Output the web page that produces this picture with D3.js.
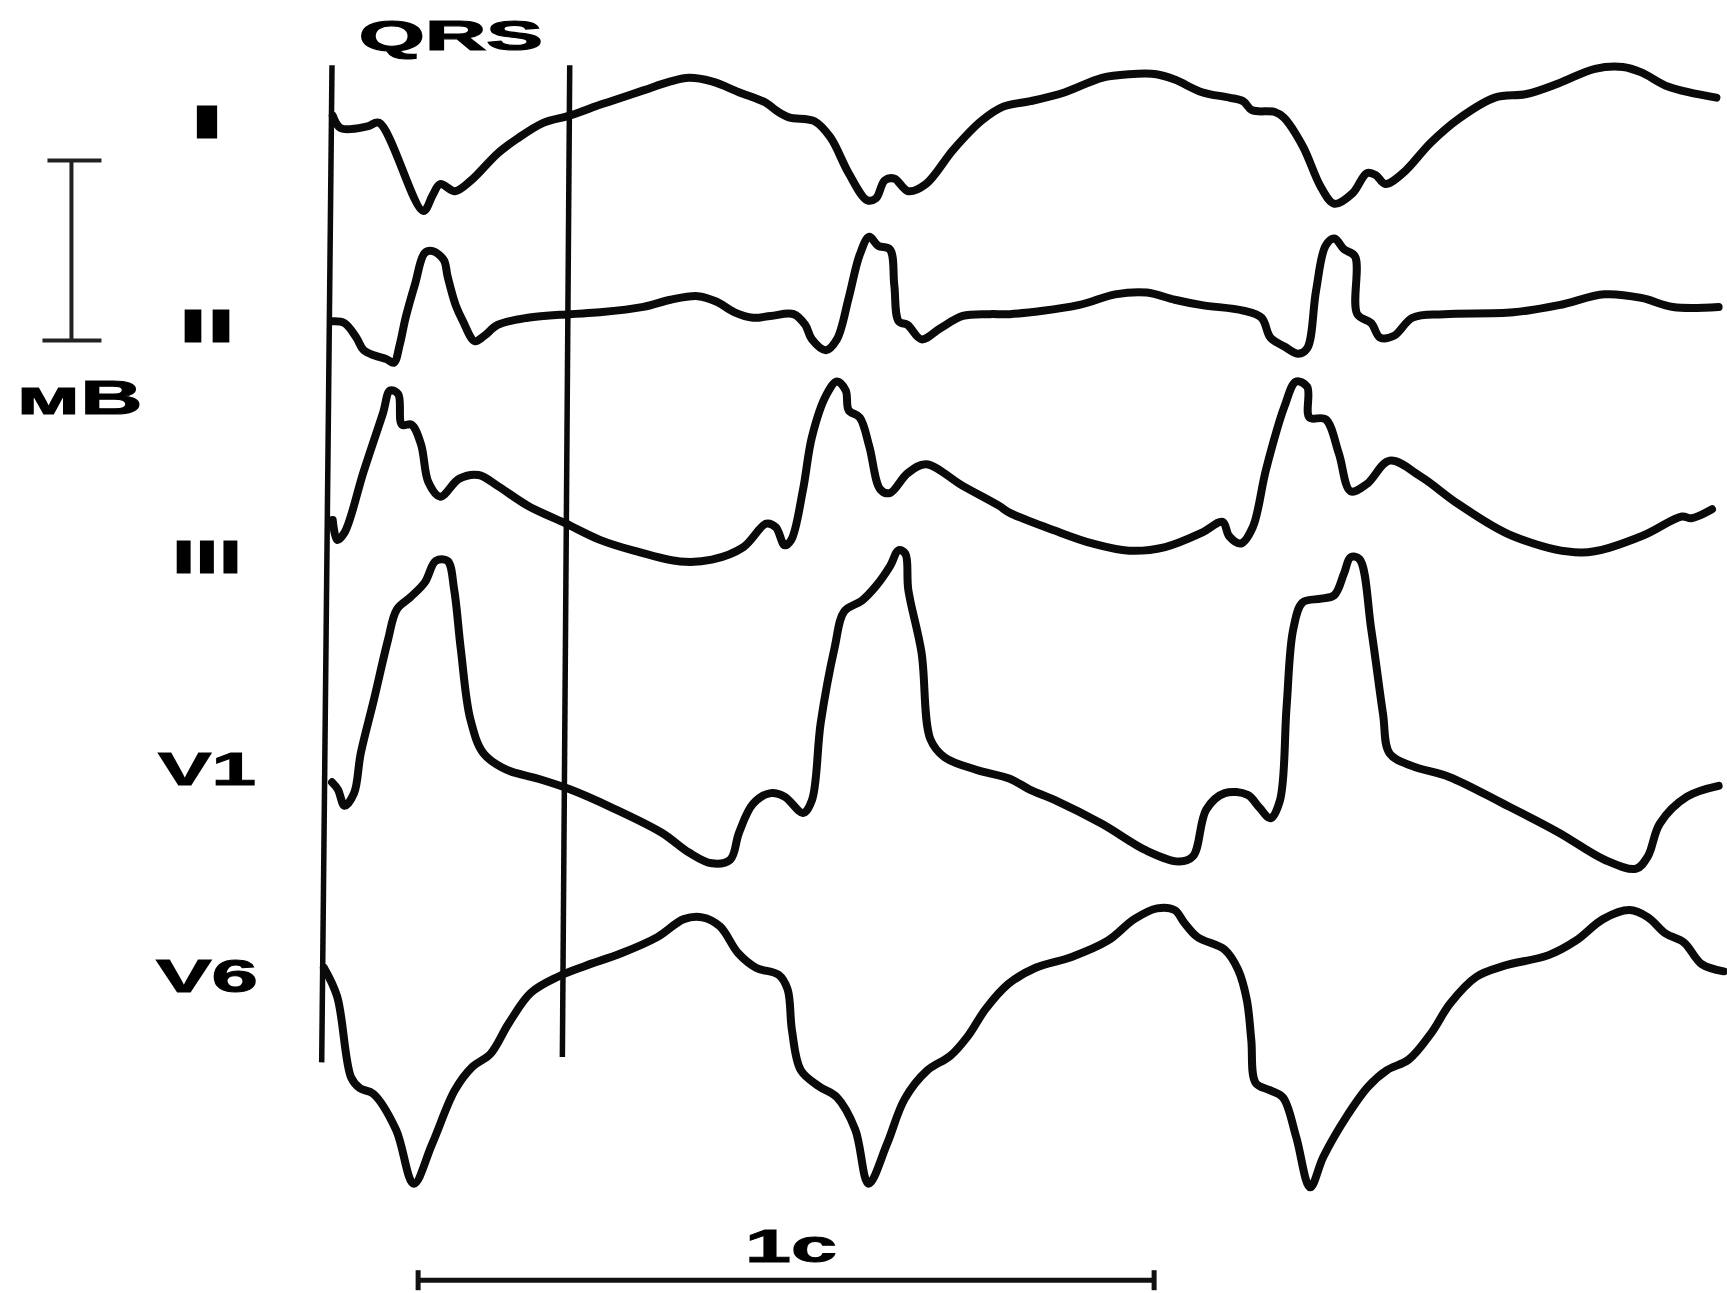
<!DOCTYPE html>
<html>
<head>
<meta charset="utf-8">
<script src="https://cdn.jsdelivr.net/npm/d3@7"></script>
<style>
  html, body { margin: 0; padding: 0; background: #fff; }
  svg { display: block; }
  text { font-family: "Liberation Sans", Arial, sans-serif; font-weight: bold; fill: #000; }
</style>
</head>
<body>
<svg id="chart" width="1727" height="1293"></svg>
<script>
// ---------- data (time in ms, amplitude in mV) ----------
const leadNames = ["I", "II", "III", "V1", "V6"];
// baseline of each lead on the common mV axis (lead I = 0)
const leadOffsets = [0, -1.133, -2.417, -3.594, -4.744];

const leadI = [[1,0.03],[12,-0.04],[48,-0.03],[64,-0.01],[124,-0.50],[137,-0.41],[147,-0.35],[167,-0.39],[189,-0.33],[225,-0.18],[251,-0.10],[287,-0.01],[323,0.03],[364,0.09],[379,0.11],[423,0.17],[460,0.22],[485,0.24],[516,0.22],[553,0.16],[590,0.10],[603,0.06],[621,0.02],[655,0.00],[677,-0.09],[702,-0.29],[727,-0.44],[739,-0.43],[751,-0.33],[764,-0.32],[783,-0.39],[807,-0.35],[844,-0.16],[882,0.00],[912,0.08],[949,0.11],[996,0.16],[1046,0.24],[1083,0.26],[1120,0.26],[1145,0.23],[1182,0.16],[1219,0.13],[1238,0.11],[1250,0.06],[1281,0.05],[1293,0.02],[1319,-0.14],[1344,-0.37],[1362,-0.46],[1387,-0.40],[1406,-0.29],[1418,-0.30],[1431,-0.35],[1455,-0.29],[1493,-0.12],[1530,0.01],[1580,0.13],[1623,0.15],[1667,0.21],[1716,0.29],[1754,0.30],[1779,0.27],[1816,0.19],[1881,0.13]];

const leadII = [[1,0.02],[17,0.01],[33,-0.07],[43,-0.14],[58,-0.17],[74,-0.19],[84,-0.21],[92,-0.11],[100,0.04],[113,0.23],[126,0.40],[137,0.41],[152,0.36],[157,0.27],[168,0.11],[178,0.02],[194,-0.09],[207,-0.06],[225,0.00],[266,0.04],[323,0.06],[364,0.07],[423,0.10],[460,0.14],[497,0.16],[522,0.13],[547,0.07],[572,0.04],[596,0.05],[627,0.06],[643,0.00],[652,-0.08],[671,-0.14],[686,-0.08],[702,0.15],[717,0.39],[730,0.49],[742,0.44],[758,0.42],[764,0.22],[770,0.02],[782,0.00],[801,-0.08],[826,-0.02],[857,0.05],[894,0.06],[921,0.06],[1014,0.11],[1064,0.17],[1107,0.18],[1145,0.14],[1182,0.11],[1238,0.08],[1263,0.04],[1275,-0.07],[1294,-0.12],[1313,-0.16],[1325,-0.13],[1337,0.19],[1350,0.44],[1362,0.48],[1375,0.42],[1390,0.38],[1393,0.06],[1412,0.01],[1424,-0.07],[1443,-0.06],[1468,0.04],[1511,0.06],[1605,0.07],[1667,0.11],[1729,0.17],[1779,0.15],[1822,0.10],[1884,0.10]];

const leadIII = [[1,0.20],[7,0.09],[17,0.13],[43,0.47],[69,0.79],[79,0.92],[90,0.90],[95,0.73],[108,0.73],[121,0.62],[131,0.41],[147,0.33],[173,0.43],[199,0.45],[225,0.39],[266,0.28],[318,0.18],[364,0.09],[410,0.03],[473,-0.03],[516,-0.02],[559,0.05],[590,0.18],[603,0.16],[615,0.06],[624,0.09],[640,0.37],[652,0.66],[671,0.89],[686,0.97],[698,0.92],[702,0.81],[717,0.77],[730,0.61],[745,0.37],[758,0.35],[782,0.46],[807,0.51],[857,0.39],[906,0.28],[921,0.24],[983,0.14],[1033,0.07],[1083,0.03],[1132,0.05],[1182,0.13],[1210,0.19],[1219,0.11],[1235,0.07],[1251,0.16],[1269,0.48],[1294,0.83],[1310,0.97],[1325,0.94],[1328,0.77],[1350,0.76],[1368,0.57],[1384,0.36],[1406,0.40],[1437,0.53],[1480,0.44],[1530,0.29],[1605,0.11],[1698,0.02],[1779,0.11],[1834,0.22],[1847,0.21],[1875,0.26]];

const leadV1 = [[0,-0.08],[8,-0.12],[17,-0.21],[30,-0.14],[39,0.08],[57,0.38],[76,0.71],[88,0.88],[107,0.95],[126,1.03],[141,1.15],[157,1.15],[166,0.99],[175,0.66],[188,0.27],[206,0.08],[237,-0.01],[280,-0.06],[324,-0.12],[380,-0.22],[448,-0.36],[485,-0.47],[516,-0.53],[541,-0.51],[553,-0.36],[572,-0.20],[596,-0.14],[615,-0.16],[640,-0.25],[652,-0.18],[664,0.25],[683,0.67],[696,0.87],[720,0.93],[739,1.01],[758,1.12],[770,1.21],[779,1.19],[783,0.99],[801,0.64],[813,0.16],[832,0.06],[875,-0.01],[921,-0.06],[948,-0.12],[983,-0.18],[1046,-0.31],[1107,-0.46],[1151,-0.52],[1170,-0.49],[1188,-0.23],[1213,-0.14],[1244,-0.15],[1260,-0.22],[1275,-0.28],[1288,-0.18],[1297,0.34],[1306,0.77],[1319,0.92],[1344,0.94],[1362,0.96],[1375,1.08],[1384,1.17],[1396,1.16],[1412,0.77],[1428,0.30],[1437,0.08],[1468,0.01],[1518,-0.05],[1592,-0.20],[1667,-0.36],[1729,-0.51],[1772,-0.56],[1788,-0.49],[1804,-0.31],[1841,-0.16],[1884,-0.10]];

const leadV6 = [[-11,0.04],[7,-0.12],[26,-0.57],[38,-0.63],[56,-0.66],[87,-0.86],[111,-1.16],[136,-0.94],[167,-0.64],[191,-0.51],[215,-0.44],[240,-0.27],[270,-0.10],[307,-0.01],[344,0.05],[393,0.12],[442,0.21],[478,0.31],[503,0.32],[527,0.27],[552,0.12],[576,0.04],[607,0.00],[619,-0.08],[625,-0.31],[637,-0.53],[662,-0.62],[686,-0.68],[711,-0.86],[729,-1.16],[754,-0.94],[778,-0.69],[809,-0.53],[840,-0.45],[864,-0.34],[888,-0.19],[919,-0.05],[956,0.04],[1005,0.10],[1054,0.19],[1090,0.31],[1121,0.37],[1145,0.36],[1158,0.29],[1176,0.21],[1213,0.14],[1231,0.03],[1243,-0.14],[1249,-0.36],[1255,-0.60],[1274,-0.64],[1292,-0.68],[1310,-0.90],[1329,-1.18],[1347,-1.01],[1378,-0.79],[1408,-0.62],[1433,-0.53],[1463,-0.47],[1494,-0.32],[1519,-0.16],[1555,-0.01],[1592,0.05],[1653,0.11],[1690,0.19],[1727,0.31],[1763,0.36],[1788,0.32],[1812,0.23],[1837,0.18],[1861,0.06],[1891,0.02]];

const leadSeries = [leadI, leadII, leadIII, leadV1, leadV6];

// QRS boundary markers (ms at top / bottom) and their vertical extent (mV on common axis)
const qrsTopMs = [0, 323];
const qrsBottomMs = [-14, 313];
const qrsTopMv = 0.31;
const qrsBottomMv = [-5.23, -5.20];

// calibration bars
const timeBarMs = [117, 1117];      // 1 s
const timeBarLevelMv = -6.44;
const voltBarMv = [-0.22, -1.22];   // 1 mV
const voltBarTimeMs = -354;

const labelQRS = "QRS";
const labelVolt = "мВ";
const labelTime = "1с";

// ---------- scales ----------
const svg = d3.select("#chart");
svg.append("rect").attr("width", 1727).attr("height", 1293).attr("fill", "#fff");

const x = d3.scaleLinear().domain([0, 1000]).range([332, 1068]);
const y = d3.scaleLinear().domain([0, -1]).range([121, 301]);

// ---------- traces ----------
const line = d3.line()
  .x(d => x(d[0]))
  .y(d => y(d[1]))
  .curve(d3.curveCatmullRom.alpha(0.5));

leadSeries.forEach((series, i) => {
  const pts = series.map(p => [p[0], p[1] + leadOffsets[i]]);
  svg.append("path")
    .attr("d", line(pts))
    .attr("fill", "none")
    .attr("stroke", "#0a0a0a")
    .attr("stroke-width", 8)
    .attr("stroke-linejoin", "round")
    .attr("stroke-linecap", "round");
});

// ---------- QRS boundary lines ----------
qrsTopMs.forEach((t, i) => {
  svg.append("line")
    .attr("x1", x(t)).attr("y1", y(qrsTopMv))
    .attr("x2", x(qrsBottomMs[i])).attr("y2", y(qrsBottomMv[i]))
    .attr("stroke", "#0a0a0a").attr("stroke-width", 5.5);
});

svg.append("text")
  .attr("x", x((qrsTopMs[0] + qrsTopMs[1]) / 2))
  .attr("y", y(qrsTopMv) - 15)
  .attr("text-anchor", "middle")
  .attr("font-size", 42)
  .attr("textLength", 184)
  .attr("lengthAdjust", "spacingAndGlyphs")
  .attr("stroke", "#000").attr("stroke-width", 1.2)
  .text(labelQRS);

// ---------- lead labels ----------
const labelWidths = [34, 56, 70, 98, 102];
leadNames.forEach((name, i) => {
  svg.append("text")
    .attr("x", 207)
    .attr("y", y(leadOffsets[i]) + 17)
    .attr("text-anchor", "middle")
    .attr("font-size", 46)
    .attr("textLength", labelWidths[i])
    .attr("lengthAdjust", "spacingAndGlyphs")
    .attr("stroke", "#000").attr("stroke-width", 1)
    .text(name);
});

// ---------- mV calibration ----------
const vx = x(voltBarTimeMs);
const vb = svg.append("g").attr("stroke", "#222").attr("stroke-width", 4);
vb.append("line").attr("x1", vx).attr("x2", vx).attr("y1", y(voltBarMv[0])).attr("y2", y(voltBarMv[1]));
vb.append("line").attr("x1", vx - 24).attr("x2", vx + 30).attr("y1", y(voltBarMv[0])).attr("y2", y(voltBarMv[0]));
vb.append("line").attr("x1", vx - 29).attr("x2", vx + 30).attr("y1", y(voltBarMv[1])).attr("y2", y(voltBarMv[1]));

svg.append("text")
  .attr("x", vx + 8)
  .attr("y", y(voltBarMv[1]) + 73)
  .attr("text-anchor", "middle")
  .attr("font-size", 48)
  .attr("textLength", 126)
  .attr("lengthAdjust", "spacingAndGlyphs")
  .attr("stroke", "#000").attr("stroke-width", 1)
  .text(labelVolt);

// ---------- time calibration ----------
const ty = y(timeBarLevelMv);
const tb = svg.append("g").attr("stroke", "#111").attr("stroke-width", 5);
tb.append("line").attr("x1", x(timeBarMs[0])).attr("x2", x(timeBarMs[1])).attr("y1", ty).attr("y2", ty);
timeBarMs.forEach(t => {
  tb.append("line").attr("x1", x(t)).attr("x2", x(t)).attr("y1", ty - 10).attr("y2", ty + 10);
});
svg.append("text")
  .attr("x", x((timeBarMs[0] + timeBarMs[1]) / 2) + 5)
  .attr("y", ty - 18)
  .attr("text-anchor", "middle")
  .attr("font-size", 46)
  .attr("textLength", 92)
  .attr("lengthAdjust", "spacingAndGlyphs")
  .attr("stroke", "#000").attr("stroke-width", 1)
  .text(labelTime);
</script>
</body>
</html>
